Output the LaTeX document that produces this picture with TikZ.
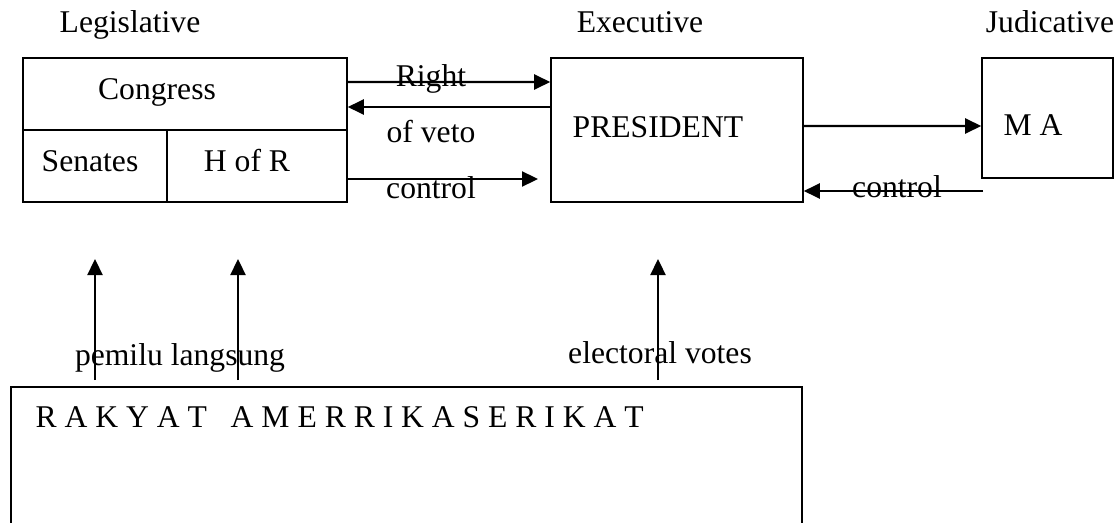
\documentclass[tikz,border=0pt]{standalone}
\usepackage{fontspec}
\setmainfont{Liberation Serif}
\usetikzlibrary{arrows.meta}

\tikzset{
  box/.style={draw, line width=0.45pt, inner sep=0pt},
  arr/.style={line width=0.65pt, -{Triangle[length=0.16cm, width=0.15cm]}},
  lbl/.style={anchor=base, inner sep=0pt}
}

\begin{document}
\begin{tikzpicture}[font=\fontsize{9}{11}\selectfont]
    \useasboundingbox (0,0) rectangle (11.2,5.22);

    % Kepala
    \node[lbl] (leg) at (1.30,4.89) {Legislative};
    \node[lbl] (exe) at (6.40,4.89) {Executive};
    \node[lbl] (jud) at (10.50,4.89) {Judicative};

    % Kotak Congress
    \node[box, minimum width=3.24cm, minimum height=0.72cm] (congress) at (1.85,4.28) {};
    \node[box, minimum width=1.44cm, minimum height=0.72cm] (senates) at (0.95,3.56) {};
    \node[box, minimum width=1.80cm, minimum height=0.72cm] (hofr) at (2.57,3.56) {};
    \node[lbl] (tcongress) at (1.57,4.23) {Congress};
    \node[lbl] (tsenates) at (0.90,3.51) {Senates};
    \node[lbl] (thofr) at (2.47,3.51) {H of R};

    % Kotak President dan MA
    \node[box, minimum width=2.52cm, minimum height=1.44cm] (president) at (6.77,3.92) {};
    \node[lbl, anchor=base west] (tpres) at (5.72,3.85) {PRESIDENT};
    \node[box, minimum width=1.31cm, minimum height=1.20cm] (ma) at (10.475,4.04) {};
    \node[lbl, anchor=base west] (tma) at (10.03,3.86) {M A};

    % Panah antar lembaga
    \draw[arr] ([yshift=0.12cm]congress.east) -- ([yshift=0.48cm]president.west);
    \draw[arr] ([yshift=0.23cm]president.west) -- ([yshift=-0.13cm]congress.east);
    \coordinate (cend) at (5.38,3.43);
    \draw[arr] (hofr.east |- cend) -- (cend);
    \node[lbl] (right) at (4.31,4.35) {Right};
    \node[lbl] (veto) at (4.31,3.80) {of veto};
    \node[lbl] (ctrl1) at (4.31,3.24) {control};

    \draw[arr] ([yshift=0.04cm]president.east) -- ([yshift=-0.08cm]ma.west);
    \coordinate (ctl) at (9.83,3.31);
    \draw[arr] (ctl) -- (president.east |- ctl);
    \node[lbl] (ctrl2) at (8.97,3.25) {control};

    % Rakyat
    \draw[line width=0.45pt] (0.11,-0.1) -- (0.11,1.35) -- (8.02,1.35) -- (8.02,-0.1);
    \node[lbl, anchor=base west] (rakyat) at (0.35,0.95)
        {R~A~K~Y~A~T~~~A~M~E~R~R~I~K~A~S~E~R~I~K~A~T};

    % Pemilu
    \foreach \n/\x in {1/0.95, 2/2.38, 3/6.58} {
        \coordinate (v\n) at (\x,1.42);
        \coordinate (w\n) at (\x,2.63);
        \draw[arr] (v\n) -- (w\n);
    }
    \node[lbl] (pemilu) at (1.80,1.57) {pemilu langsung};
    \node[lbl] (elect) at (6.60,1.59) {electoral votes};
\end{tikzpicture}
\end{document}
